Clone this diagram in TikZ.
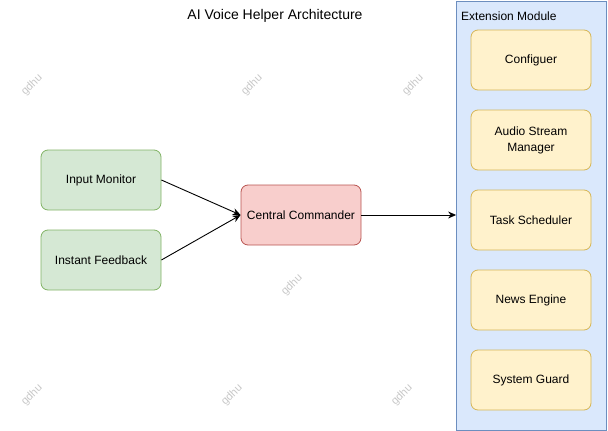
\documentclass[tikz,border=0pt]{standalone}
\usepackage{fontspec}
\setmainfont{Liberation Sans}
\usetikzlibrary{arrows.meta}
\definecolor{gfill}{HTML}{D5E8D4}\definecolor{gline}{HTML}{82B366}
\definecolor{rfill}{HTML}{F8CECC}\definecolor{rline}{HTML}{B85450}
\definecolor{yfill}{HTML}{FFF2CC}\definecolor{yline}{HTML}{D6B656}
\definecolor{bfill}{HTML}{DAE8FC}\definecolor{bline}{HTML}{6C8EBF}
\tikzset{
  box/.style={rounded corners=7pt, minimum width=120pt, minimum height=60pt, inner sep=0pt, align=center, font=\fontsize{12pt}{14pt}\selectfont, line width=0.8pt},
  greenbox/.style={box, draw=gline, fill=gfill},
  redbox/.style={box, draw=rline, fill=rfill},
  yellowbox/.style={box, draw=yline, fill=yfill},
  conn/.style={-{Stealth[length=8pt,width=7pt]}, line width=0.9pt},
  wm/.style={text=black!22, rotate=45, font=\fontsize{11pt}{12pt}\selectfont, inner sep=0pt}
}
\begin{document}
\begin{tikzpicture}[x=1pt,y=-1pt]
\useasboundingbox (0,0) rectangle (608,431);
\node[wm] (w1) at (32,85) {gdhu};
\node[wm] (w2) at (252,85) {gdhu};
\node[wm] (w3) at (413,85) {gdhu};
\node[wm] (w4) at (292,285) {gdhu};
\node[wm] (w5) at (32,395) {gdhu};
\node[wm] (w6) at (232,395) {gdhu};
\node[wm] (w7) at (402,395) {gdhu};
\node[font=\fontsize{14pt}{16pt}\selectfont, inner sep=0pt] (title) at (275,16) {AI Voice Helper Architecture};
\node[draw=bline, fill=bfill, line width=0.8pt, minimum width=150pt, minimum height=429pt, inner sep=0pt] (ext) at (531.5,215.5) {};
\node[anchor=west, font=\fontsize{12pt}{14pt}\selectfont, inner sep=0pt] (extlabel) at (461,16) {Extension Module};
\node[yellowbox] (cfg) at (531,60) {Configuer};
\node[yellowbox] (asm) at (531,140) {Audio Stream\\[2pt]Manager};
\node[yellowbox] (ts) at (531,220) {Task Scheduler};
\node[yellowbox] (ne) at (531,300) {News Engine};
\node[yellowbox] (sg) at (531,380) {System Guard};
\node[greenbox] (im) at (101,180) {Input Monitor};
\node[greenbox] (if) at (101,260) {Instant Feedback};
\node[redbox] (cc) at (301,215) {Central Commander};
\draw[conn] (im.east) -- (cc.west);
\draw[conn] (if.east) -- (cc.west);
\draw[conn] (cc.east) -- (cc.east -| ext.west);
\end{tikzpicture}
\end{document}
